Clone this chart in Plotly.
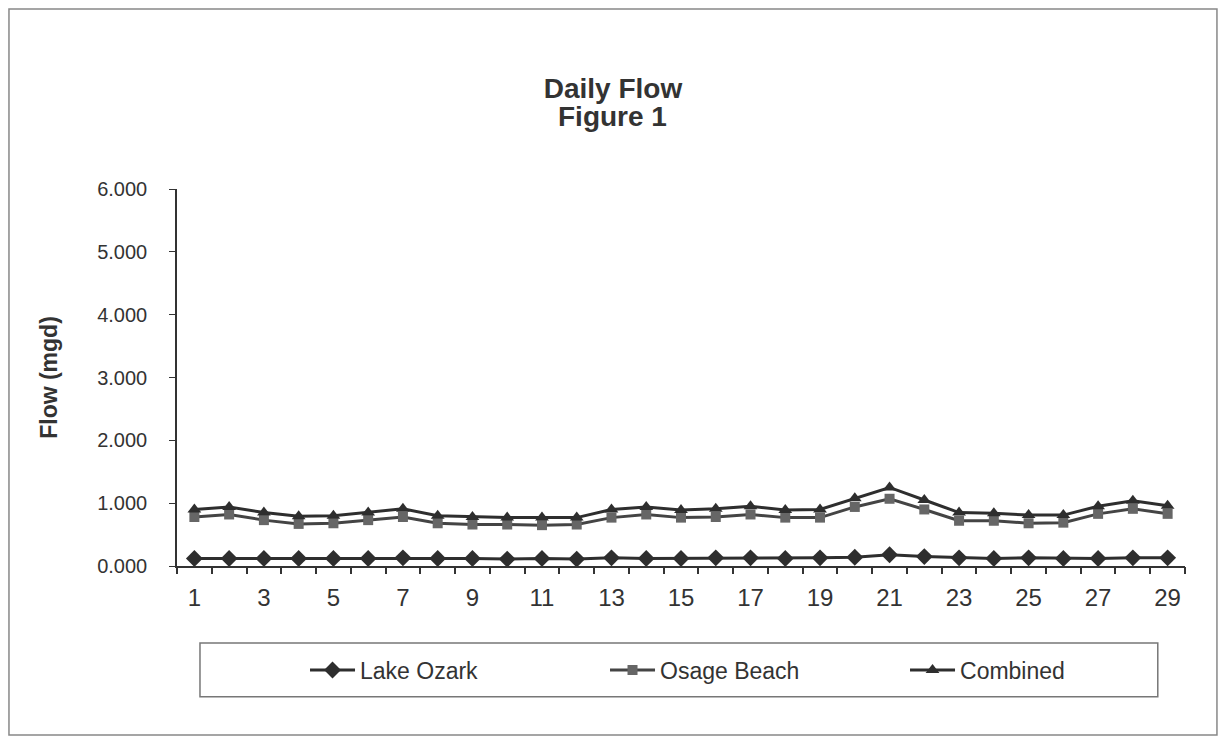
import plotly.graph_objects as go

days = list(range(1, 30))
lake_ozark = [0.12, 0.12, 0.12, 0.12, 0.12, 0.12, 0.13, 0.12, 0.12, 0.11,
              0.12, 0.11, 0.13, 0.12, 0.12, 0.13, 0.13, 0.12, 0.13, 0.14,
              0.18, 0.15, 0.13, 0.12, 0.13, 0.12, 0.12, 0.13, 0.13]
osage_beach = [0.78, 0.82, 0.73, 0.67, 0.68, 0.73, 0.78, 0.68, 0.66, 0.66,
               0.65, 0.66, 0.77, 0.82, 0.77, 0.78, 0.82, 0.77, 0.77, 0.94,
               1.07, 0.90, 0.72, 0.72, 0.68, 0.69, 0.83, 0.91, 0.83]
combined = [round(a + b, 3) for a, b in zip(lake_ozark, osage_beach)]
y_ticks = [0, 1, 2, 3, 4, 5, 6]
x_labels = list(range(1, 30, 2))

fnt = 'Liberation Sans, Arial, sans-serif'
dark = '#2e2e2e'

fig = go.Figure()
fig.add_trace(go.Scatter(x=days, y=lake_ozark, name='Lake Ozark', mode='lines+markers',
                         line=dict(color=dark, width=3),
                         marker=dict(symbol='diamond', size=13, color=dark)))
fig.add_trace(go.Scatter(x=days, y=osage_beach, name='Osage Beach', mode='lines+markers',
                         line=dict(color='#444', width=3),
                         marker=dict(symbol='square', size=10, color='#666')))
fig.add_trace(go.Scatter(x=days, y=combined, name='Combined', mode='lines+markers',
                         line=dict(color=dark, width=3),
                         marker=dict(symbol='triangle-up', size=12, color=dark)))
# dummy trace on overlaid axis to carry the boundary tick marks
fig.add_trace(go.Scatter(x=[days[0]], y=[None], xaxis='x2', showlegend=False, hoverinfo='skip'))

fig.update_layout(
    width=1210, height=728,
    paper_bgcolor='white', plot_bgcolor='white',
    margin=dict(l=169, r=33, t=181, b=170),
    font=dict(family=fnt, size=22, color='#333'),
    title=dict(text='<b>Daily Flow</b>', x=0.5, xanchor='center',
               y=0.890, yanchor='middle', font=dict(size=28, color='#333')),
    annotations=[dict(text='<b>Figure 1</b>', xref='paper', yref='paper', x=0.4325, y=1.191,
                      xanchor='center', yanchor='middle', showarrow=False,
                      font=dict(size=28, color='#333'))],
    xaxis=dict(range=[0.5, 29.5], tickvals=x_labels, ticks='', showgrid=False,
               showline=True, linecolor='#333', linewidth=1.5, zeroline=False,
               ticklabelstandoff=9, tickfont=dict(size=24)),
    xaxis2=dict(range=[0.5, 29.5], overlaying='x', side='bottom', anchor='y',
                tickmode='linear', tick0=0.5, dtick=1, ticks='outside', ticklen=7,
                tickcolor='#333', tickwidth=1.5, showticklabels=False, showgrid=False,
                showline=False, zeroline=False),
    yaxis=dict(range=[0, 6], tickvals=y_ticks, tickformat='.3f', ticks='outside',
               ticklen=6, tickcolor='#333', showgrid=False, showline=True,
               linecolor='#333', linewidth=1.5, zeroline=False, ticklabelstandoff=18,
               tickfont=dict(size=20),
               title=dict(text='<b>Flow (mgd)</b>', font=dict(size=23), standoff=33)),
    legend=dict(orientation='h', x=0.127, xanchor='left', y=-0.276, yanchor='middle',
                entrywidth=240, itemwidth=45, font=dict(size=23), bgcolor='rgba(0,0,0,0)'),
    shapes=[
        dict(type='rect', xref='paper', yref='paper', x0=-0.1667, x1=1.0317,
             y0=-0.4483, y1=1.4775, line=dict(color='#888', width=1.5)),
        dict(type='rect', xref='paper', yref='paper', x0=0.0228, x1=0.973,
             y0=-0.347, y1=-0.204, line=dict(color='#777', width=1.5)),
    ],
)

fig.write_html('out.html')
